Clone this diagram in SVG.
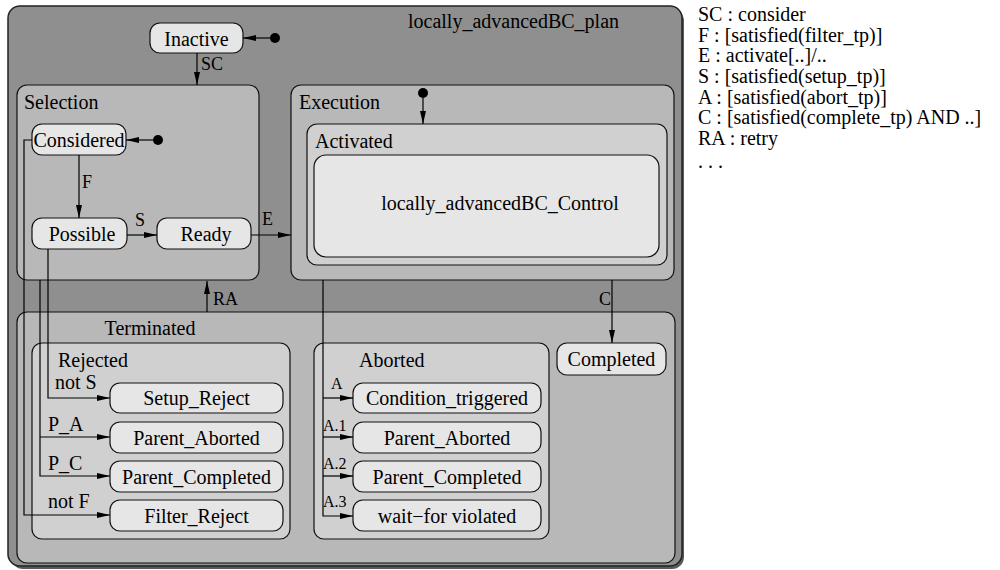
<svg xmlns="http://www.w3.org/2000/svg" width="1000" height="570" viewBox="0 0 1000 570" font-family="'Liberation Serif', 'DejaVu Serif', serif">
<defs>
<marker id="ah" markerWidth="14" markerHeight="8" refX="13" refY="4" orient="auto" markerUnits="userSpaceOnUse">
<path d="M0,1 L13,4 L0,7 Z" fill="#000"/>
</marker>
<style>
text{font-family:'Liberation Serif','DejaVu Serif',serif;fill:#000}
.t{font-size:20px}
.c{text-anchor:middle}
.lab{font-size:18px}
.sm{font-size:16px}
.b1{fill:#8f8f8f;stroke:#222;stroke-width:1.5}
.b2{fill:#b8b8b8;stroke:#111;stroke-width:1.2}
.b3{fill:#d0d0d0;stroke:#111;stroke-width:1.2}
.n{fill:#e6e6e6;stroke:#111;stroke-width:1.2}
.a{fill:none;stroke:#000;stroke-width:1.2;marker-end:url(#ah)}
</style>
</defs>
<rect width="1000" height="570" fill="#fff"/>

<g id="plan">
<rect x="11" y="9" width="673" height="560" rx="12" fill="#5a5a5a"/>
<rect x="8" y="6" width="674" height="560" rx="12" class="b1"/>
<text x="408" y="28" class="t">locally_advancedBC_plan</text>
</g>

<g id="selection">
<rect x="17" y="85" width="242" height="195" rx="10" class="b2"/>
<text x="24" y="109" class="t">Selection</text>
</g>

<g id="execution">
<rect x="291" y="85" width="383" height="195" rx="10" class="b2"/>
<text x="299" y="109" class="t">Execution</text>
</g>

<g id="activated">
<rect x="307" y="124" width="360" height="141" rx="10" class="b3"/>
<text x="315" y="148" class="t">Activated</text>
</g>

<g id="control">
<rect x="314" y="155" width="345" height="102" rx="12" class="n"/>
<text x="500" y="210" class="t c">locally_advancedBC_Control</text>
</g>

<g id="terminated">
<rect x="17" y="312" width="658" height="251" rx="10" class="b2"/>
<text x="150" y="335" class="t c">Terminated</text>
</g>

<g id="rejected">
<rect x="32" y="343" width="258" height="196" rx="10" class="b3"/>
<text x="58" y="367" class="t">Rejected</text>
</g>

<g id="aborted">
<rect x="314" y="343" width="235" height="196" rx="10" class="b3"/>
<text x="359" y="367" class="t">Aborted</text>
</g>

<g id="inactive">
<rect x="150" y="23" width="93" height="30" rx="10" class="n"/>
<text x="196.5" y="45.5" class="t c">Inactive</text>
</g>

<g id="considered">
<rect x="32" y="124" width="94" height="31" rx="10" class="n"/>
<text x="79" y="146.5" class="t c">Considered</text>
</g>

<g id="possible">
<rect x="32" y="218" width="95" height="31" rx="10" class="n"/>
<text x="82" y="240.5" class="t c">Possible</text>
</g>

<g id="ready">
<rect x="157" y="218" width="94" height="31" rx="10" class="n"/>
<text x="206" y="240.5" class="t c">Ready</text>
</g>

<g id="completed">
<rect x="557" y="343" width="109" height="32" rx="10" class="n"/>
<text x="611.5" y="366" class="t c">Completed</text>
</g>

<g id="setup_reject">
<rect x="110" y="383" width="173" height="30" rx="10" class="n"/>
<text x="196.5" y="405" class="t c">Setup_Reject</text>
</g>
<g id="r_parent_aborted">
<rect x="110" y="422" width="173" height="31" rx="10" class="n"/>
<text x="196.5" y="444.5" class="t c">Parent_Aborted</text>
</g>
<g id="r_parent_completed">
<rect x="110" y="461" width="173" height="31" rx="10" class="n"/>
<text x="196.5" y="483.5" class="t c">Parent_Completed</text>
</g>
<g id="filter_reject">
<rect x="110" y="500" width="173" height="31" rx="10" class="n"/>
<text x="196.5" y="522.5" class="t c">Filter_Reject</text>
</g>

<g id="condition_triggered">
<rect x="353" y="383" width="188" height="30" rx="10" class="n"/>
<text x="447" y="405" class="t c">Condition_triggered</text>
</g>
<g id="a_parent_aborted">
<rect x="353" y="422" width="188" height="31" rx="10" class="n"/>
<text x="447" y="444.5" class="t c">Parent_Aborted</text>
</g>
<g id="a_parent_completed">
<rect x="353" y="461" width="188" height="31" rx="10" class="n"/>
<text x="447" y="483.5" class="t c">Parent_Completed</text>
</g>
<g id="wait_for_violated">
<rect x="353" y="500" width="188" height="31" rx="10" class="n"/>
<text x="447" y="522.5" class="t c">wait−for violated</text>
</g>

<g id="connectors">
<circle cx="275" cy="38" r="5" fill="#000"/>
<line x1="270" y1="38" x2="243" y2="38" class="a"/>
<circle cx="158" cy="140" r="5" fill="#000"/>
<line x1="153" y1="140" x2="126" y2="140" class="a"/>
<circle cx="423" cy="93" r="5" fill="#000"/>
<line x1="423" y1="98" x2="423" y2="124" class="a"/>

<line x1="197" y1="53" x2="197" y2="85" class="a"/>
<text x="201" y="70" class="lab">SC</text>
<line x1="79" y1="155" x2="79" y2="218" class="a"/>
<text x="82" y="188" class="lab">F</text>
<line x1="127" y1="235" x2="157" y2="235" class="a"/>
<text x="135" y="226" class="lab">S</text>
<line x1="251" y1="235" x2="291" y2="235" class="a"/>
<text x="262" y="225" class="lab">E</text>
<line x1="207" y1="312" x2="207" y2="281" class="a"/>
<text x="213" y="305" class="lab">RA</text>
<line x1="612" y1="280" x2="612" y2="343" class="a"/>
<text x="599" y="305" class="lab">C</text>

<polyline points="48,249 48,398 110,398" class="a"/>
<text x="55" y="389" class="t">not S</text>
<polyline points="40,280 40,476 110,476" class="a"/>
<line x1="40" y1="437" x2="110" y2="437" class="a"/>
<text x="48" y="431" class="t">P_A</text>
<text x="48" y="470" class="t">P_C</text>
<polyline points="32,140 24,140 24,515 110,515" class="a"/>
<text x="48" y="508" class="t">not F</text>

<polyline points="323,280 323,516 353,516" class="a"/>
<line x1="323" y1="398" x2="353" y2="398" class="a"/>
<line x1="323" y1="437" x2="353" y2="437" class="a"/>
<line x1="323" y1="476" x2="353" y2="476" class="a"/>
<text x="331" y="389" class="sm">A</text>
<text x="323" y="431" class="sm">A.1</text>
<text x="323" y="469" class="sm">A.2</text>
<text x="323" y="507" class="sm">A.3</text>
</g>

<g id="legend">
<text x="698" y="21" class="t">SC : consider</text>
<text x="698" y="42" class="t">F : [satisfied(filter_tp)]</text>
<text x="698" y="62" class="t">E : activate[..]/..</text>
<text x="698" y="83" class="t">S : [satisfied(setup_tp)]</text>
<text x="698" y="104" class="t">A : [satisfied(abort_tp)]</text>
<text x="698" y="124" class="t">C : [satisfied(complete_tp) AND ..]</text>
<text x="698" y="145" class="t">RA : retry</text>
<text x="698" y="168" class="t">. . .</text>
</g>
</svg>
